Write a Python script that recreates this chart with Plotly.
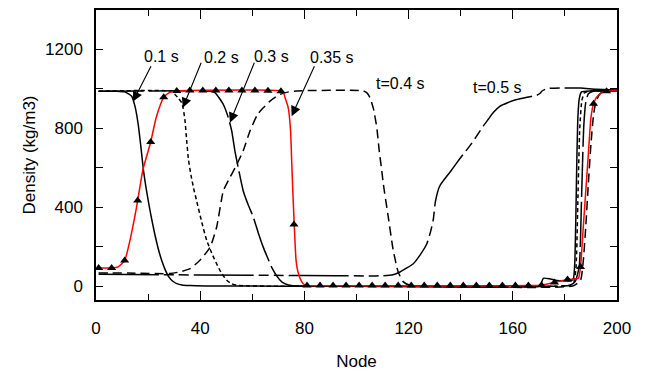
import plotly.graph_objects as go

# Density profiles along the pipe (node index vs density) at several times
t01_nodes = [1, 8, 11, 12.5, 13.7, 15, 16.2, 17.2, 18.2, 19.2, 20.1, 21.3, 22.6, 24, 25.2, 26.5, 27.8,
             29.5, 31, 33, 36, 42, 100, 170, 170.8, 171.7, 174, 176.9, 180, 182.5, 183.3, 183.8,
             184.2, 184.6, 185, 185.5, 186.4, 190, 200]
t01_rho = [988, 988, 985, 975, 963, 910, 820, 710, 590, 500, 430, 345, 262, 185, 131, 85, 50,
           25, 13, 6, 3, 1, 0, 0, 10, 40, 38, 29, 27, 28, 40, 120,
           350, 650, 860, 950, 985, 990, 990]

t02_nodes = [1, 29, 30.3, 31.5, 32.9, 33.5, 34.2, 34.8, 35.5, 36.5, 37.5, 38.6, 40.5, 42.5, 44.5,
             46.3, 48, 50.2, 52, 54, 58, 65, 150, 182, 183.5, 184.3, 185, 185.7, 186.5, 187.5, 190, 200]
t02_rho = [988, 988, 972, 955, 930, 900, 835, 740, 640, 560, 495, 434, 330, 232, 165,
           114, 70, 30, 13, 5, 2, 0, 0, 5, 25, 100, 450, 800, 940, 980, 990, 990]

t03_nodes = [1, 44, 45.5, 46.3, 47.5, 48.9, 50.8, 52.1, 53.4, 55, 56.5, 58.5, 60.4, 62.3, 64.2, 66,
             67.4, 69.5, 71.3, 73, 75, 80, 150, 182, 184, 185.5, 186.4, 187.2, 188, 189, 191, 200]
t03_rho = [988, 988, 982, 972, 950, 921, 854, 787, 680, 575, 484, 410, 350, 270, 198, 140,
           97, 50, 22, 10, 4, 1, 0, 5, 25, 100, 450, 800, 930, 975, 988, 990]

t035_nodes = [1, 6, 8.5, 11, 13, 15, 16, 18, 21, 23, 25, 26, 28, 31, 36, 71, 72, 72.6, 73.8, 74.7,
              75.1, 75.7, 76.1, 76.8, 77.7, 79, 80.2, 81, 166, 171, 176, 181, 184, 185.2, 186, 187,
              188, 189, 190, 191, 192, 193, 195, 197, 200]
t035_rho = [92, 92, 98, 130, 230, 360, 434, 590, 731, 850, 930, 958, 980, 990, 992, 990, 980, 955,
            904, 787, 640, 434, 313, 131, 64, 22, 5, 3, 3, 5, 19, 34, 36, 40, 97, 290,
            480, 670, 855, 925, 955, 970, 985, 990, 990]

# Marked nodes on the 0.35 s profile (every 5th node)
t035_mark_nodes = list(range(1, 200, 5))
t035_mark_rho = [92, 92, 130, 434, 731, 958, 990, 992, 992, 992, 992, 992, 992, 991, 988, 313,
                 3, 3, 3, 3, 3, 3, 3, 3, 3, 3, 3, 3, 3, 3, 3, 3, 3, 3,
                 5, 19, 34, 97, 925, 988]

t04_nodes = [1, 15, 28.4, 32, 36.1, 39.9, 43.8, 46.3, 48.9, 51.4, 53.4, 56.5, 59.1, 62, 64.2, 66.8,
             69, 70.6, 74, 77, 102.6, 104, 105.2, 106.5, 107.8, 108.7, 109.7, 110.3, 112.2, 114.1,
             116, 118, 120.5, 125, 183, 186, 187, 188, 189, 190, 191, 192, 193.5, 195, 200]
t04_rho = [67, 66, 64, 72, 89, 131, 198, 299, 484, 551, 600, 686, 787, 870, 904, 938,
           960, 972, 985, 990, 990, 980, 955, 900, 803, 690, 585, 518, 350, 182,
           72, 22, 5, 1, 1, 30, 120, 300, 520, 720, 870, 940, 975, 990, 990]

t05_nodes = [1, 40, 80, 105, 110, 114, 116.7, 119, 121.8, 124.5, 127, 128.5, 129.5, 130.3, 132, 136,
             140, 144, 146.1, 148.7, 150.6, 152.5, 155, 158, 161.5, 165, 169.2, 170.5, 171.1, 173,
             178, 186, 192, 200]
t05_rho = [60, 57, 54, 52, 53, 58, 72, 90, 114, 160, 215, 280, 340, 430, 509, 580,
           652, 720, 761, 812, 846, 880, 912, 930, 946, 956, 968, 978, 988, 1001,
           1005, 1004, 998, 995]

# Labels: (text, node, density)
labels = [("0.1 s", 25.3, 1165), ("0.2 s", 48, 1160), ("0.3 s", 67.4, 1165),
          ("0.35 s", 90.6, 1160), ("t=0.4 s", 116.7, 1029), ("t=0.5 s", 154.1, 1008)]
# Arrows: (tail node, tail density, head node, head density)
arrows = [(21.4, 1123, 14.2, 936), (40.6, 1140, 33.3, 904),
          (61, 1140, 51.4, 829), (84.1, 1123, 75.1, 862)]

FONT = "Liberation Sans, Arial, sans-serif"
fig = go.Figure()

def add_line(x, y, color, dash):
    fig.add_trace(go.Scatter(x=x, y=y, mode="lines",
                             line=dict(color=color, width=1.5, dash=dash,
                                       shape="spline", smoothing=0.5),
                             showlegend=False, hoverinfo="skip"))

add_line(t05_nodes, t05_rho, "black", "60px,5px,10px,5px,10px,5px")
add_line(t04_nodes, t04_rho, "black", "9px,5px")
add_line(t03_nodes, t03_rho, "black", "45px,5px")
add_line(t02_nodes, t02_rho, "black", "4px,3px")
add_line(t01_nodes, t01_rho, "black", "solid")
add_line(t035_nodes, t035_rho, "red", "solid")
fig.add_trace(go.Scatter(x=t035_mark_nodes, y=t035_mark_rho, mode="markers",
                         marker=dict(symbol="triangle-up", size=8, color="black"),
                         showlegend=False, hoverinfo="skip"))

for text, xn, yr in labels:
    fig.add_annotation(x=xn, y=yr, text=text, showarrow=False,
                       font=dict(family=FONT, size=16, color="black"))
for tx, ty, hx, hy in arrows:
    fig.add_annotation(x=hx, y=hy, ax=tx, ay=ty, axref="x", ayref="y", text="",
                       showarrow=True, arrowhead=2, arrowsize=1.8, arrowwidth=1.1,
                       arrowcolor="black")

axis_common = dict(showline=True, linecolor="black", linewidth=1.5, mirror="ticks",
                   ticks="inside", tickcolor="black", tickwidth=1.3, showgrid=False,
                   zeroline=False, tickfont=dict(family=FONT, size=17, color="black"))

fig.update_xaxes(range=[0, 200], dtick=40, tick0=0, ticklen=9,
                 minor=dict(dtick=20, ticklen=6, ticks="inside", tickcolor="black", tickwidth=1.3),
                 ticklabelstandoff=12,
                 title=dict(text="Node", font=dict(family=FONT, size=17, color="black"), standoff=18),
                 **axis_common)
fig.update_yaxes(range=[-70, 1400], dtick=400, tick0=0, ticklen=7,
                 minor=dict(dtick=200, ticklen=7, ticks="inside", tickcolor="black", tickwidth=1.3),
                 ticklabelstandoff=8,
                 title=dict(text="Density (kg/m3)", font=dict(family=FONT, size=17, color="black"),
                            standoff=5),
                 **axis_common)

fig.update_layout(width=645, height=378, margin=dict(l=96, r=28, t=8, b=78),
                  plot_bgcolor="white", paper_bgcolor="white")

fig.write_html("out.html")
